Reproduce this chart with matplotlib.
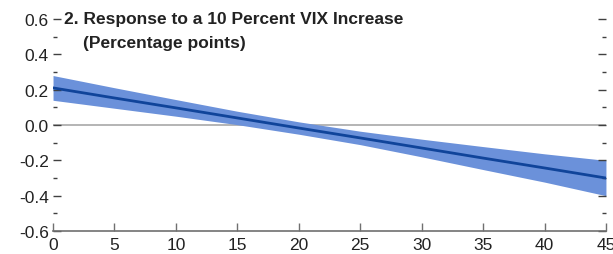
import matplotlib
matplotlib.use("Agg")
import matplotlib.pyplot as plt
from matplotlib import font_manager
from matplotlib.ticker import MultipleLocator

names = {f.name for f in font_manager.fontManager.ttflist}
fam = ["Liberation Sans Narrow", "Liberation Sans", "DejaVu Sans"]
fam = [f for f in fam if f in names] or ["DejaVu Sans"]
plt.rcParams["font.family"] = fam

horizon = [0, 5, 10, 15, 20, 25, 30, 35, 40, 45]
estimate = [0.21, 0.153, 0.097, 0.040, -0.017, -0.073, -0.130, -0.187, -0.243, -0.300]
half_width = [0.07, 0.058, 0.047, 0.038, 0.035, 0.038, 0.050, 0.065, 0.080, 0.100]
lower = [e - h for e, h in zip(estimate, half_width)]
upper = [e + h for e, h in zip(estimate, half_width)]
ytick_vals = [-0.6, -0.4, -0.2, 0.0, 0.2, 0.4, 0.6]
ytick_labels = ["-0.6", "-0.4", "-0.2", "0.0", "0.2", "0.4", "0.6"]

fig = plt.figure(figsize=(6.13, 2.55), dpi=100)
ax = fig.add_axes([0.0865, 0.09, 0.902, 0.8316])

ax.fill_between(horizon, lower, upper, color="#6b91da", lw=0)
ax.plot(horizon, estimate, color="#10449a", lw=2)
ax.axhline(0, color="#a8a8a8", lw=1.2, zorder=0)

ax.set_xlim(0, 45)
ax.set_ylim(-0.6, 0.6)
ax.yaxis.set_minor_locator(MultipleLocator(0.1))
ax.set_yticks(ytick_vals)
ax.set_yticklabels(ytick_labels)
ax.set_xticks(horizon)
ax.set_xticklabels([str(h) for h in horizon])

for s in ["top", "left", "right"]:
    ax.spines[s].set_visible(False)
ax.spines["bottom"].set_color("#707070")
ax.spines["bottom"].set_linewidth(1.2)

ax.tick_params(axis="y", which="both", direction="in", left=True, right=True,
               colors="#404040", labelcolor="#222222", labelsize=12.5, pad=3)
ax.tick_params(axis="y", which="major", length=6, width=1)
ax.tick_params(axis="y", which="minor", length=3, width=1)
ax.tick_params(axis="x", which="major", direction="in", length=6, width=1,
               colors="#707070", labelcolor="#222222", labelsize=12.5, pad=4)

ax.text(0.02, 1.0, "2. Response to a 10 Percent VIX Increase",
        transform=ax.transAxes, ha="left", va="center", fontsize=12.5,
        fontweight="bold", color="#222222")
ax.text(0.054, 0.887, "(Percentage points)",
        transform=ax.transAxes, ha="left", va="center", fontsize=12.5,
        fontweight="bold", color="#222222")
fig.savefig("out.png", dpi=100)
